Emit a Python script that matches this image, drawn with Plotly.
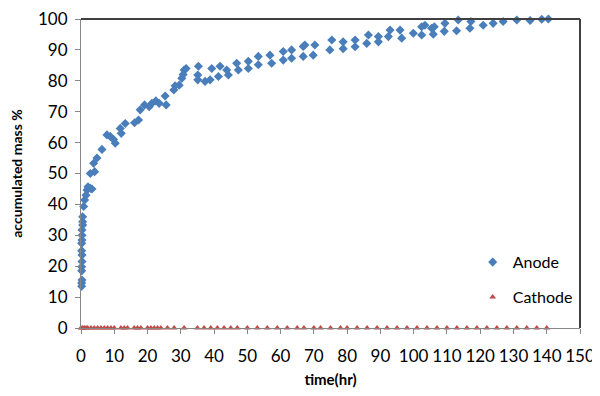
import plotly.graph_objects as go

# Anode: accumulated mass % vs time (hr)
anode_t = [0.2, 0.2, 0.3, 0.2, 0.2, 0.3, 0.3, 0.2, 0.2, 0.3, 0.3, 0.3, 0.5, 0.5, 0.5,
           0.8, 1.1, 1.5, 1.8, 2.1, 2.8, 3.3, 2.8, 4.1, 3.8, 4.8, 6.3, 7.8, 8.8, 9.8,
           10.3, 11.8, 12.1, 13.3, 16.1, 17.3, 17.8, 19.1, 20.5, 21.3, 22.5, 23.5, 25.3, 25.6,
           27.9, 28.3, 29.5, 30.3, 30.7, 31.0, 31.6,
           35.3, 35.1, 35.1, 37.3, 38.8, 39.3, 41.3, 41.8, 43.8, 44.3, 46.8, 47.3,
           50.3, 50.3, 53.3, 53.3, 56.8, 57.3, 60.8, 60.8, 63.3, 63.3, 66.8, 66.8,
           67.3, 70.3, 69.8, 75.4, 74.8, 78.8, 78.8, 82.4, 82.4, 86.4, 85.9, 89.4, 89.4,
           92.9, 92.4, 95.9, 96.4, 99.9, 102.4, 102.4, 105.4, 103.4, 106.2, 105.9,
           109.4, 109.2, 113.4, 112.9, 117.2, 116.9, 120.9, 123.9, 126.9, 131.0, 135.0,
           138.5, 140.5]
anode_v = [13.5, 14.6, 15.5, 18.5, 19.8, 21.5, 23.6, 25.0, 27.4, 28.5, 30.0, 31.7, 33.3, 34.4, 36.0,
           39.3, 41.4, 43.0, 44.7, 45.7, 45.2, 45.0, 50.0, 50.6, 53.3, 55.0, 57.8, 62.5, 62.0, 61.0,
           59.8, 64.6, 63.0, 66.2, 66.4, 67.3, 70.6, 72.2, 71.6, 72.7, 73.5, 72.7, 75.1, 72.2,
           77.0, 78.4, 78.6, 80.8, 82.0, 83.5, 84.0,
           84.7, 81.9, 80.3, 79.8, 80.3, 84.0, 81.4, 84.7, 83.5, 81.9, 85.7, 83.5,
           84.0, 86.3, 87.9, 85.2, 88.3, 85.7, 89.5, 86.7, 90.0, 87.3, 91.1, 87.9,
           91.6, 91.6, 88.3, 93.2, 90.0, 92.6, 90.4, 93.2, 91.0, 94.8, 92.1, 94.3, 92.6,
           96.4, 94.3, 96.4, 93.8, 95.4, 97.5, 94.8, 97.0, 98.0, 97.5, 95.1,
           98.6, 96.0, 99.7, 96.2, 99.2, 97.0, 98.0, 98.6, 99.2, 99.7, 99.5,
           99.9, 100.0]

# Cathode: accumulated mass % vs time (hr)
cathode_t = [0, 0.5, 1, 1.5, 2, 3, 4, 5, 6, 7, 8, 9, 10, 12, 13, 14, 16, 17, 18, 20, 21, 22,
             23, 24, 26, 28, 31, 35, 37, 39, 41, 43, 45, 47, 50, 53, 56, 59, 62, 65, 67, 70,
             72, 75, 78, 80, 83, 86, 89, 92, 95, 98, 101, 104, 107, 110, 113, 116, 119, 122,
             125, 128, 131, 134, 137, 140]
cathode_v = [0.0] * len(cathode_t)

x_ticks = list(range(0, 151, 10))
y_ticks = list(range(0, 101, 10))

FONT = "Lato, 'Open Sans', sans-serif"

fig = go.Figure()
fig.add_trace(go.Scatter(
    x=anode_t, y=anode_v, mode="markers", name="Anode", legendgroup="a",
    marker=dict(symbol="diamond", size=7, color="#4A7EBB"),
    cliponaxis=False,
))
fig.add_trace(go.Scatter(
    x=cathode_t, y=cathode_v, mode="markers", name="Cathode", legendgroup="c",
    marker=dict(symbol="triangle-up", size=6, color="#BE4B48"),
    cliponaxis=False,
))

fig.update_layout(
    width=592, height=388,
    margin=dict(l=73, r=20, t=11, b=68),
    paper_bgcolor="white", plot_bgcolor="white",
    font=dict(family=FONT, size=16, color="black"),
    showlegend=True,
    legend=dict(x=0.785, y=0.268, xanchor="left", yanchor="top",
                bgcolor="rgba(0,0,0,0)", font=dict(size=16), itemsizing="trace",
                tracegroupgap=11, itemwidth=30),
    xaxis=dict(range=[0, 150], tickvals=x_ticks, ticktext=[str(v) for v in x_ticks],
               showgrid=False, zeroline=False, showline=True, linecolor="#868686",
               linewidth=1, ticks="outside", ticklen=5, tickcolor="#868686",
               tickfont=dict(size=17), ticklabelstandoff=8, automargin=False,
               ticklabeloverflow="allow",
               title=dict(text="<b>time(hr)</b>", font=dict(size=15), standoff=9)),
    yaxis=dict(range=[0, 100], tickvals=y_ticks, ticktext=[str(v) for v in y_ticks],
               showgrid=False, zeroline=False, showline=True, linecolor="#868686",
               linewidth=1, ticks="outside", ticklen=5, tickcolor="#868686",
               tickfont=dict(size=17), ticklabelstandoff=4, automargin=False,
               ticklabeloverflow="allow",
               title=dict(text="<b>accumulated mass %</b>", font=dict(size=14), standoff=22)),
    shapes=[
        dict(type="line", xref="paper", yref="paper", x0=0, x1=1, y0=1, y1=1,
             line=dict(color="#404040", width=2), layer="above"),
        dict(type="line", xref="paper", yref="paper", x0=1, x1=1, y0=0, y1=1,
             line=dict(color="#404040", width=2), layer="above"),
    ],
)

fig.write_html("out.html")
